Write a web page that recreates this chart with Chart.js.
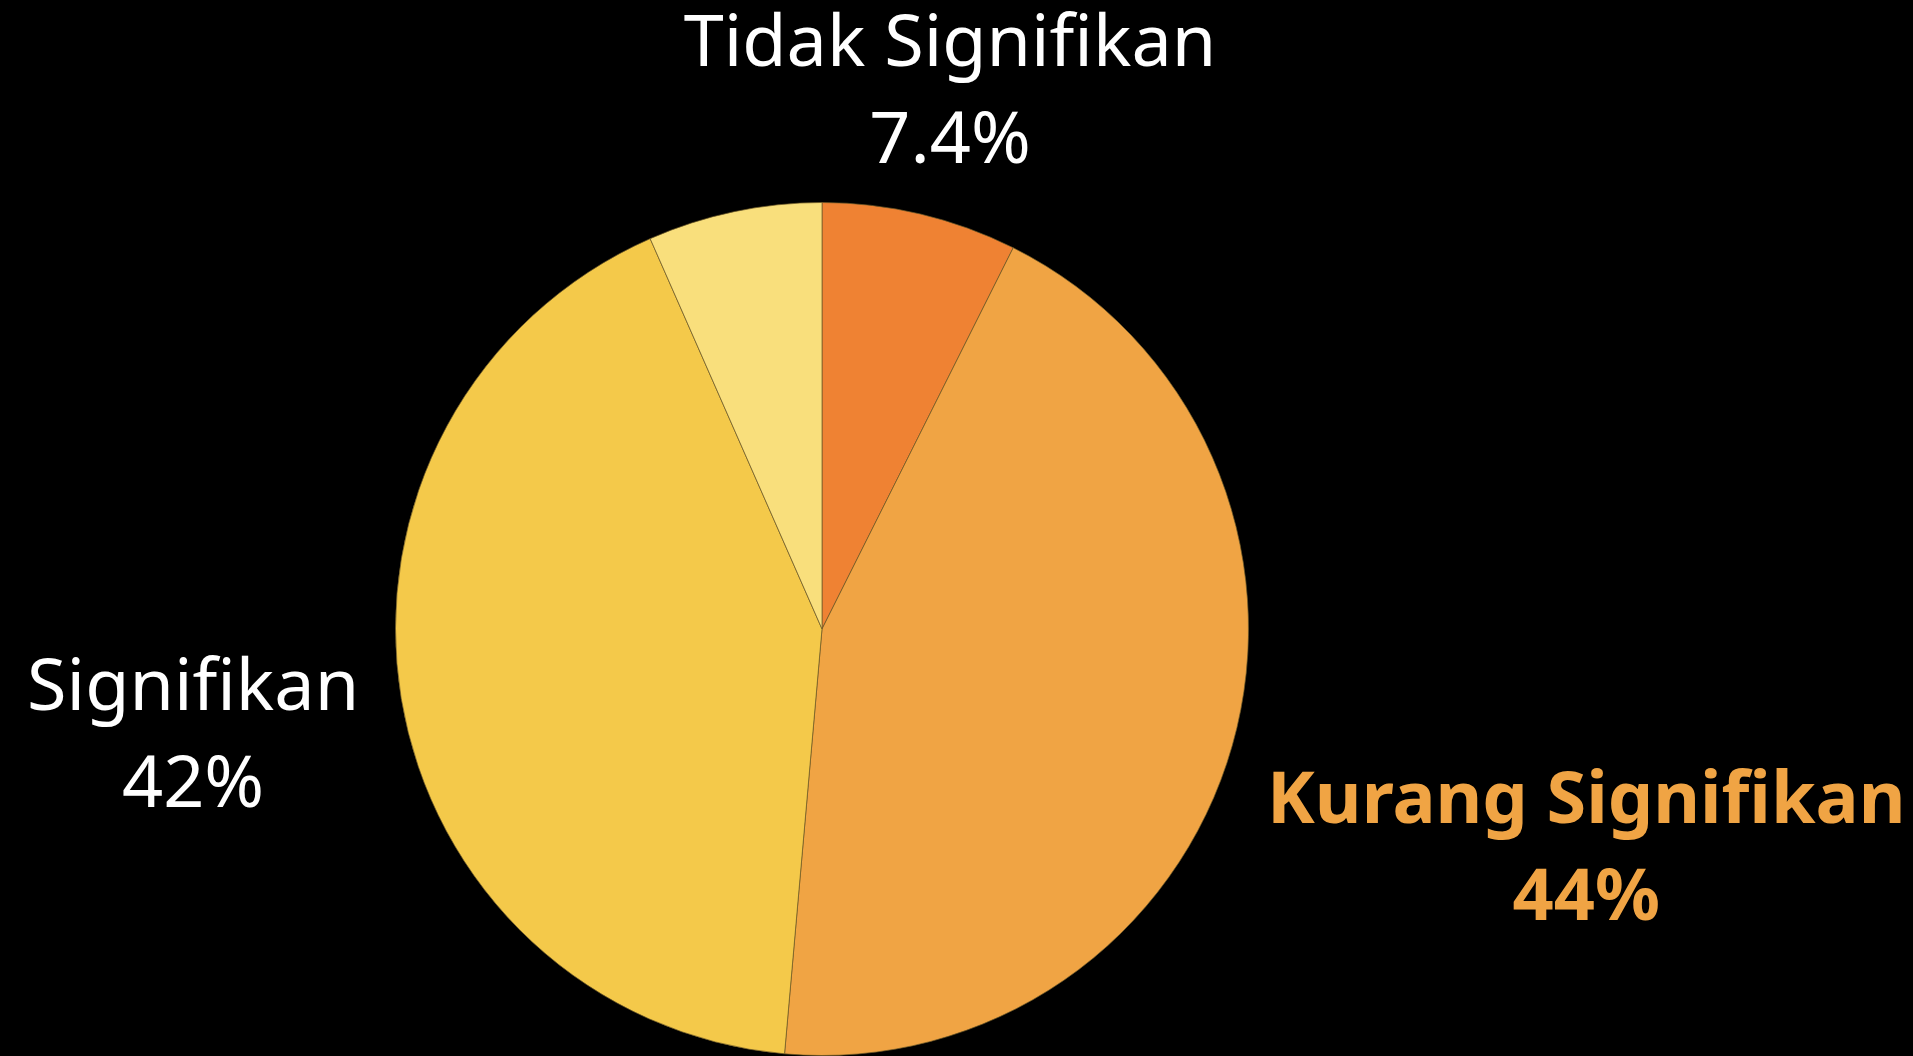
<!DOCTYPE html>
<html>
<head>
<meta charset="utf-8">
<script src="https://cdn.jsdelivr.net/npm/chart.js@4.4.0/dist/chart.umd.min.js"></script>
<style>
  html, body { margin: 0; padding: 0; background: #000; overflow: hidden; }
  #wrap { width: 1913px; height: 1056px; }
</style>
</head>
<body>
<div id="wrap"><canvas id="chart"></canvas></div>
<script>
// ---------- DATA ----------
const categories = ["Tidak Signifikan", "Kurang Signifikan", "Signifikan", ""];
const shares = [7.4, 44, 42, 6.6];

// ---------- STYLE ----------
const sliceColors = ["#EF8233", "#F0A444", "#F4C94A", "#F9DF7C"];
const labelColors = ["#FFFFFF", "#F0A444", "#FFFFFF", "#FFFFFF"];
const labelWeights = ["400", "700", "400", "400"];
const labelFont = "'Noto Sans', sans-serif";
const labelSize = 72;
const lineGap = 97;

// labels sit outside the pie, pushed out along the middle of each slice
const outsideLabels = {
  id: "outsideLabels",
  afterDatasetsDraw(chart) {
    const ctx = chart.ctx;
    const meta = chart.getDatasetMeta(0);
    meta.data.forEach((arc, i) => {
      if (!categories[i]) return;
      const p = arc.getProps(["x", "y", "startAngle", "endAngle", "outerRadius"], true);
      const mid = (p.startAngle + p.endAngle) / 2;
      const lines = [categories[i], shares[i] + "%"];
      ctx.save();
      ctx.font = labelWeights[i] + " " + labelSize + "px " + labelFont;
      const w = Math.max(...lines.map(t => ctx.measureText(t).width));
      const cap = labelSize * 0.72;
      const h = lineGap * (lines.length - 1) + cap;
      const dx = Math.cos(mid), dy = Math.sin(mid);
      const dist = p.outerRadius + 30 + Math.abs(dx) * w * 0.535 + Math.abs(dy) * h * 0.23;
      const cx = p.x + dx * dist;
      const cy = p.y + dy * dist;
      ctx.fillStyle = labelColors[i];
      ctx.textAlign = "center";
      ctx.textBaseline = "alphabetic";
      const top = cy - h / 2;
      lines.forEach((t, k) => ctx.fillText(t, cx, top + cap + lineGap * k));
      ctx.restore();
    });
  }
};

const ctx = document.getElementById("chart");

new Chart(ctx, {
  type: "pie",
  data: {
    labels: categories,
    datasets: [{
      data: shares,
      backgroundColor: sliceColors,
      borderColor: "rgba(110, 90, 40, 0.7)",
      borderWidth: 1,
    }],
  },
  options: {
    responsive: true,
    maintainAspectRatio: false,
    animation: false,
    layout: {
      padding: { top: 202, bottom: 0, left: 395, right: 664 },
    },
    plugins: {
      legend: { display: false },
      tooltip: { enabled: false },
    },
  },
  plugins: [outsideLabels],
});
</script>
</body>
</html>
